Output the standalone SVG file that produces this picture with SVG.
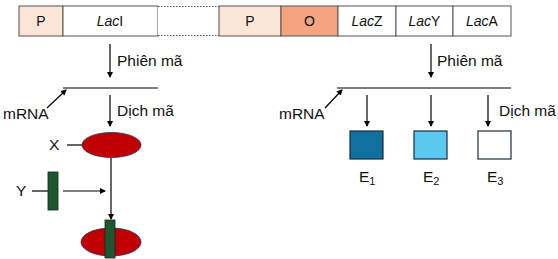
<svg xmlns="http://www.w3.org/2000/svg" width="558" height="259" viewBox="0 0 558 259">
<defs>
<marker id="ah" markerWidth="6" markerHeight="6" refX="5" refY="3" orient="auto" markerUnits="userSpaceOnUse"><path d="M0,0 L6,3 L0,6 z" fill="#000"/></marker>
<style>
text{font-family:"Liberation Sans",Arial,sans-serif;font-size:15.5px;fill:#111}
.b{font-size:14px}
.t{text-anchor:middle}
.g{stroke:#555;stroke-width:1}
.c{stroke:#000;stroke-width:1.2;fill:none}
.a{stroke:#000;stroke-width:1.2;fill:none;marker-end:url(#ah)}
.i{font-style:italic}
.ell{fill:#C00000;stroke:#2a2a5a;stroke-width:0.8}
.gr{fill:#1E5631;stroke:#0d2a18;stroke-width:0.8}
.e{stroke:#1b2a40;stroke-width:1.2}
</style>
</defs>
<g id="gene-bar">
<rect id="p1" x="19" y="6" width="44" height="30" fill="#FBE5D6" class="g"/>
<rect id="laci" x="63" y="6" width="95" height="30" fill="#fff" class="g"/>
<g id="gap"><rect x="158" y="6" width="61" height="30" fill="#fff"/><line x1="158" y1="6.5" x2="219" y2="6.5" stroke="#555" stroke-dasharray="1.5,1.5"/><line x1="158" y1="35.5" x2="219" y2="35.5" stroke="#555" stroke-dasharray="1.5,1.5"/></g>
<rect id="p2" x="219" y="6" width="62" height="30" fill="#FBE5D6" class="g"/>
<rect id="o" x="281" y="6" width="57" height="30" fill="#F4A57F" class="g"/>
<rect id="lacz" x="338" y="6" width="58" height="30" fill="#fff" class="g"/>
<rect id="lacy" x="396" y="6" width="57" height="30" fill="#fff" class="g"/>
<rect id="laca" x="453" y="6" width="58" height="30" fill="#fff" class="g"/>
<text class="t b" x="41" y="26">P</text>
<text class="t b" x="110" y="26"><tspan class="i">Lac</tspan>I</text>
<text class="t b" x="250" y="26">P</text>
<text class="t b" x="309.5" y="26">O</text>
<text class="t b" x="367" y="26"><tspan class="i">Lac</tspan>Z</text>
<text class="t b" x="424.5" y="26"><tspan class="i">Lac</tspan>Y</text>
<text class="t b" x="482" y="26"><tspan class="i">Lac</tspan>A</text>
</g>
<g id="connectors">
<line class="a" x1="110" y1="44" x2="110" y2="77"/>
<line class="c" x1="63" y1="88" x2="158" y2="88"/>
<line class="a" x1="47" y1="108" x2="66" y2="90"/>
<line class="a" x1="110" y1="95" x2="110" y2="126"/>
<line class="c" x1="67" y1="145" x2="82" y2="145"/>
<line class="a" x1="111" y1="158" x2="111" y2="219"/>
<line class="c" x1="32" y1="191" x2="48" y2="191"/>
<line class="a" x1="63" y1="191" x2="105" y2="191"/>
<line class="a" x1="431" y1="44" x2="431" y2="77"/>
<line class="c" x1="337" y1="88" x2="511" y2="88"/>
<line class="a" x1="325" y1="108" x2="342" y2="90"/>
<line class="a" x1="367" y1="95" x2="367" y2="126"/>
<line class="a" x1="431" y1="95" x2="431" y2="126"/>
<line class="a" x1="488" y1="95" x2="488" y2="126"/>
</g>
<g id="labels">
<text x="117" y="66">Phiên mã</text>
<text x="117" y="116">Dịch mã</text>
<text x="3" y="119">mRNA</text>
<text x="437" y="66">Phiên mã</text>
<text x="499" y="116">Dịch mã</text>
<text x="279" y="119">mRNA</text>
</g>
<g id="x-protein">
<ellipse class="ell" cx="111.5" cy="145" rx="29.5" ry="12.5"/>
<text x="49" y="150">X</text>
</g>
<g id="y-molecule">
<rect class="gr" x="48" y="172" width="10" height="38"/>
<text x="16" y="196">Y</text>
</g>
<g id="complex">
<ellipse class="ell" cx="111" cy="242" rx="30" ry="14"/>
<rect class="gr" x="105" y="220" width="10" height="38"/>
</g>
<g id="e1"><rect class="e" x="350" y="131" width="33" height="28" fill="#10719F"/><text x="359" y="182">E<tspan font-size="11" dy="3">1</tspan></text></g>
<g id="e2"><rect class="e" x="414" y="131" width="33" height="28" fill="#5BC8F0"/><text x="423" y="182">E<tspan font-size="11" dy="3">2</tspan></text></g>
<g id="e3"><rect class="e" x="478" y="131" width="33" height="28" fill="#fff"/><text x="487" y="182">E<tspan font-size="11" dy="3">3</tspan></text></g>
</svg>
